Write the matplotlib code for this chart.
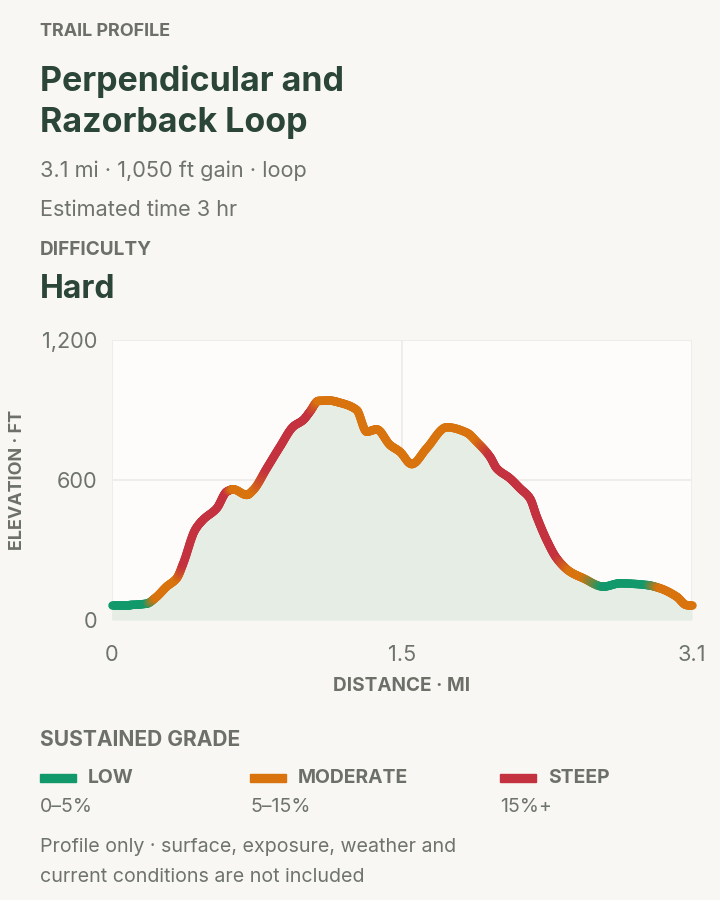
import matplotlib
matplotlib.use("Agg")
import matplotlib.pyplot as plt
import numpy as np
from matplotlib.collections import LineCollection
from matplotlib.colors import to_rgb

# ---------------- data ----------------
dist_mi = [0.00, 0.096, 0.185, 0.235, 0.292, 0.346, 0.381, 0.444, 0.486, 0.560,
           0.613, 0.648, 0.720, 0.755, 0.827, 0.898, 0.969, 1.022, 1.058, 1.103,
           1.165, 1.219, 1.308, 1.361, 1.415, 1.486, 1.539, 1.602, 1.682, 1.789,
           1.896, 1.949, 2.020, 2.056, 2.127, 2.181, 2.234, 2.270, 2.323, 2.377,
           2.448, 2.519, 2.626, 2.715, 2.858, 2.929, 3.018, 3.072, 3.100]
elev_ft = [65, 65, 70, 97, 143, 179, 243, 386, 429, 479,
           550, 560, 536, 557, 650, 743, 829, 857, 893, 939,
           940, 931, 900, 807, 817, 750, 721, 668, 736, 826,
           803, 764, 700, 650, 607, 564, 521, 443, 343, 264,
           207, 179, 143, 157, 150, 136, 100, 64, 64]
grade_class = ["low", "low", "low", "mod", "mod", "mod", "steep", "steep", "steep", "steep",
               "steep", "mod", "mod", "mod", "steep", "steep", "steep", "steep", "steep", "mod",
               "mod", "mod", "mod", "mod", "mod", "mod", "mod", "mod", "mod", "mod",
               "mod", "mod", "steep", "steep", "steep", "steep", "steep", "steep", "steep", "steep",
               "mod", "mod", "low", "low", "low", "mod", "mod", "mod", "mod"]

total_mi = 3.1
x_ticks = [0, total_mi / 2, total_mi]
x_tick_labels = ["0", "1.5", "3.1"]
y_ticks = [0, 600, 1200]
y_tick_labels = ["0", "600", "1,200"]

legend_keys = ["low", "mod", "steep"]
legend_names = ["LOW", "MODERATE", "STEEP"]
legend_ranges = ["0–5%", "5–15%", "15%+"]

# ---------------- style ----------------
W, H, DPI = 720, 900, 100
BG = "#f8f7f3"
FACE = "#fdfcfa"
GRID = "#ecebe7"
FILL = "#e5ede5"
TITLE = "#2b4539"
LABEL = "#6c7069"
BODY = "#6f736d"
COLORS = {"low": "#12996b", "mod": "#d9730d", "steep": "#c5323f"}
FONT = ["Inter", "DejaVu Sans"]

def px(p):
    return p * 72.0 / DPI

plt.rcParams["font.family"] = FONT

fig = plt.figure(figsize=(W / DPI, H / DPI), dpi=DPI, facecolor=BG)

def ftext(x, y, s, size, color, weight="normal", **kw):
    fig.text(x / W, 1 - y / H, s, fontsize=px(size), color=color,
             fontweight=weight, va="center", ha=kw.pop("ha", "left"), **kw)

# header texts
ftext(40, 32, "TRAIL PROFILE", 18, LABEL, "bold")
ftext(40, 81, "Perpendicular and", 34, TITLE, "bold")
ftext(40, 123, "Razorback Loop", 34, TITLE, "bold")
ftext(40, 171, "3.1 mi · 1,050 ft gain · loop", 21.7, BODY)
ftext(40, 210, "Estimated time 3 hr", 21.7, BODY)
ftext(40, 250, "DIFFICULTY", 19, LABEL, "bold")
ftext(40, 290, "Hard", 32, TITLE, "bold")

# ---------------- chart ----------------
L, R, T, B = 112, 692, 340, 620
ax = fig.add_axes([L / W, 1 - B / H, (R - L) / W, (B - T) / H])
ax.set_facecolor(FACE)
ax.set_xlim(0, total_mi)
ax.set_ylim(0, 1200)
for s in ax.spines.values():
    s.set_visible(False)
ax.set_xticks(x_ticks)
ax.set_xticklabels(x_tick_labels)
ax.set_yticks(y_ticks)
ax.set_yticklabels(y_tick_labels)
ax.tick_params(length=0, labelsize=px(21.7), labelcolor=BODY)
ax.tick_params(axis="y", pad=px(15))
ax.tick_params(axis="x", pad=px(25))
ax.grid(True, color=GRID, linewidth=1.2)
ax.set_axisbelow(True)

x = np.array(dist_mi, dtype=float)
y = np.array(elev_ft, dtype=float)

# monotone cubic (PCHIP) rendering of the profile
def pchip_slopes(x, y):
    h = np.diff(x)
    d = np.diff(y) / h
    m = np.zeros_like(y)
    for k in range(1, len(x) - 1):
        if d[k - 1] * d[k] > 0:
            w1 = 2 * h[k] + h[k - 1]
            w2 = h[k] + 2 * h[k - 1]
            m[k] = (w1 + w2) / (w1 / d[k - 1] + w2 / d[k])
    m[0] = d[0]
    m[-1] = d[-1]
    return m

m = pchip_slopes(x, y)
n_sub = 16
segs, cols, fx, fy = [], [], [], []
for i in range(len(x) - 1):
    h = x[i + 1] - x[i]
    t = np.linspace(0, 1, n_sub + 1)
    h00 = 2 * t**3 - 3 * t**2 + 1
    h10 = t**3 - 2 * t**2 + t
    h01 = -2 * t**3 + 3 * t**2
    h11 = t**3 - t**2
    xs = x[i] + h * t
    ys = h00 * y[i] + h10 * h * m[i] + h01 * y[i + 1] + h11 * h * m[i + 1]
    fx.extend(xs[:-1]); fy.extend(ys[:-1])
    c0 = np.array(to_rgb(COLORS[grade_class[i]]))
    c1 = np.array(to_rgb(COLORS[grade_class[i + 1]]))
    for k in range(n_sub):
        segs.append([(xs[k], ys[k]), (xs[k + 1], ys[k + 1])])
        tm = (t[k] + t[k + 1]) / 2
        cols.append(tuple(c0 * (1 - tm) + c1 * tm))
fx.append(x[-1]); fy.append(y[-1])

ax.fill_between(fx, fy, 0, color=FILL, zorder=1, linewidth=0)
lc = LineCollection(segs, colors=cols, linewidths=px(8.5), capstyle="round",
                    joinstyle="round", zorder=3, clip_on=False)
ax.add_collection(lc)

ax.set_ylabel("ELEVATION · FT", fontsize=px(18), fontweight="bold", color=LABEL,
              va="center", ha="center")
ax.yaxis.set_label_coords(-(L - 18) / (R - L), 0.5)
ax.set_xlabel("DISTANCE · MI", fontsize=px(19), fontweight="bold", color=LABEL,
              va="center", ha="center")
ax.xaxis.set_label_coords(0.5, -(686 - B) / (B - T))

# ---------------- legend ----------------
ftext(40, 740, "SUSTAINED GRADE", 21, LABEL, "bold")
lx = [40, 250, 500]
for k, name, rng, x0 in zip(legend_keys, legend_names, legend_ranges, lx):
    fig.patches.append(plt.Rectangle((x0 / W, 1 - 782 / H), 36 / W, 8 / H,
                                     transform=fig.transFigure, color=COLORS[k]))
    ftext(x0 + 48, 778, name, 19.3, LABEL, "bold")
    ftext(x0, 807, rng, 19.5, BODY)

ftext(40, 847, "Profile only · surface, exposure, weather and", 19.6, BODY)
ftext(40, 877, "current conditions are not included", 19.6, BODY)

fig.savefig("out.png", dpi=DPI, facecolor=BG)
